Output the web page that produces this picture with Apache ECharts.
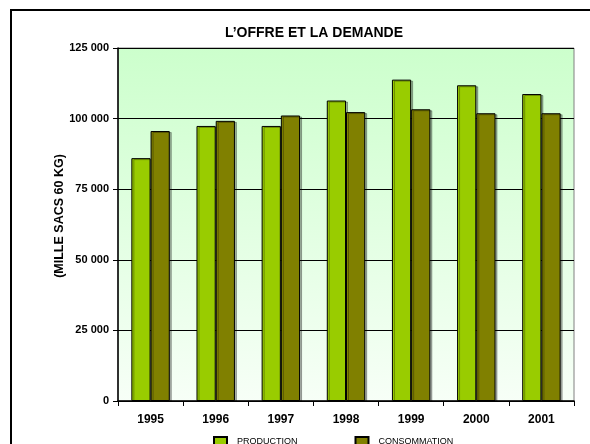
<!DOCTYPE html>
<html>
<head>
<meta charset="utf-8">
<script src="https://cdn.jsdelivr.net/npm/echarts@6/dist/echarts.min.js"></script>
<style>
  html, body { margin: 0; padding: 0; background: #fff; }
  #chart { width: 590px; height: 444px; }
</style>
</head>
<body>
<div id="chart"></div>
<script>
const years = ['1995', '1996', '1997', '1998', '1999', '2000', '2001'];
const production = [86000, 97400, 97400, 106400, 113800, 111800, 108700];
const consommation = [95600, 99200, 101100, 102300, 103300, 101900, 101900];
const seriesNames = ['PRODUCTION', 'CONSOMMATION'];
const colors = ['#99cc00', '#808000'];

const fmt = (v) => String(v).replace(/\B(?=(\d{3})+(?!\d))/g, ' ');

const chart = echarts.init(document.getElementById('chart'), null, { renderer: 'canvas' });

const barStyle = (color) => ({
    color,
    borderColor: '#000',
    borderWidth: 1,
    shadowColor: 'rgba(0,0,0,0.3)',
    shadowOffsetX: 2,
    shadowOffsetY: 1,
});

chart.setOption({
    animation: false,
    textStyle: { fontFamily: '"Liberation Sans", Arial, sans-serif' },
    title: {
        text: 'L\u2019OFFRE ET LA DEMANDE',
        left: 309,
        textAlign: 'center',
        top: 21,
        textStyle: { fontSize: 14, fontWeight: 'bold', color: '#000' },
    },
    graphic: [{
        type: 'rect',
        shape: { x: 11, y: 10, width: 620, height: 480 },
        style: { fill: 'none', stroke: '#000', lineWidth: 2 },
        silent: true,
        z: 100,
    }, {
        type: 'text',
        x: 60,
        y: 216,
        rotation: Math.PI / 2,
        style: {
            text: '(MILLE SACS 60 KG)',
            fill: '#000',
            font: 'bold 12.5px "Liberation Sans", Arial, sans-serif',
            align: 'center',
            verticalAlign: 'middle',
        },
        silent: true,
    }],
    legend: {
        left: 208,
        top: 431,
        itemWidth: 13,
        itemHeight: 10,
        itemGap: 57,
        icon: 'rect',
        textStyle: { fontSize: 9, color: '#000', padding: [0, 0, 0, 5] },
        data: seriesNames,
    },
    grid: {
        left: 118,
        right: 16,
        top: 48,
        bottom: 43,
        show: true,
        borderColor: '#808080',
        borderWidth: 1,
        backgroundColor: new echarts.graphic.LinearGradient(0, 0, 0, 1, [
            { offset: 0, color: '#ccffcc' },
            { offset: 1, color: '#f7fff7' },
        ]),
    },
    xAxis: {
        type: 'category',
        data: years,
        axisLine: { lineStyle: { color: '#000', width: 1.5 } },
        axisTick: { show: true, length: 5, lineStyle: { color: '#000' } },
        axisLabel: { color: '#000', fontSize: 12, fontWeight: 'bold', margin: 13 },
    },
    yAxis: {
        type: 'value',
        min: 0,
        max: 125000,
        interval: 25000,
        axisLine: { show: true, lineStyle: { color: '#000', width: 1.5 } },
        axisTick: { show: true, length: 5, lineStyle: { color: '#000' } },
        axisLabel: { color: '#000', fontSize: 11, fontWeight: 'bold', margin: 9, formatter: fmt },
        splitLine: { show: true, lineStyle: { color: '#000', width: 1 } },
    },
    series: [
        {
            name: seriesNames[0],
            type: 'bar',
            data: production,
            barGap: '0%',
            barCategoryGap: '41%',
            itemStyle: barStyle(colors[0]),
        },
        {
            name: seriesNames[1],
            type: 'bar',
            data: consommation,
            barGap: '0%',
            barCategoryGap: '41%',
            itemStyle: barStyle(colors[1]),
        },
    ],
});
</script>
</body>
</html>
